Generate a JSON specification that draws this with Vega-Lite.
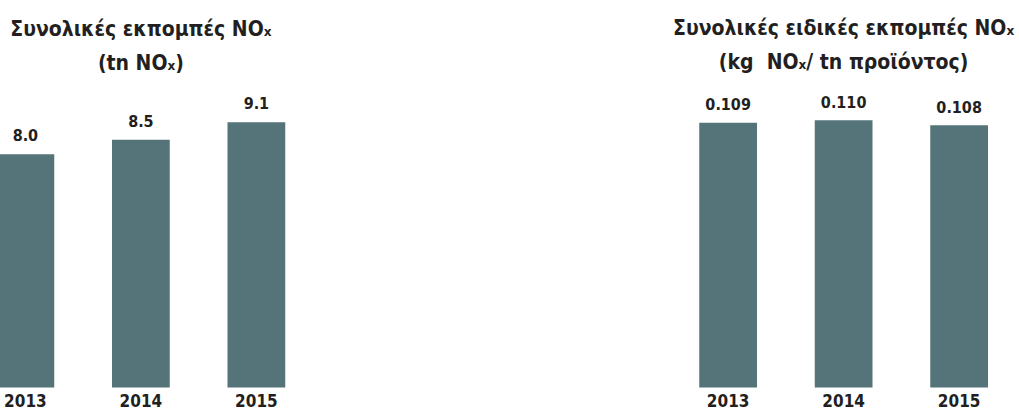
{
  "$schema": "https://vega.github.io/schema/vega-lite/v6.json",
  "background": "white",
  "padding": {"left": -3.5, "top": 17, "right": 0, "bottom": 0},
  "datasets": {
    "total": [
      {"year": "2013", "value": 8.0},
      {"year": "2014", "value": 8.5},
      {"year": "2015", "value": 9.1}
    ],
    "specific": [
      {"year": "2013", "value": 0.109},
      {"year": "2014", "value": 0.110},
      {"year": "2015", "value": 0.108}
    ]
  },
  "config": {
    "view": {"stroke": null},
    "font": "DejaVu Sans Condensed, sans-serif",
    "title": {"font": "DejaVu Sans Condensed, sans-serif", "fontSize": 21, "fontWeight": "bold", "color": "#231f20", "lineHeight": 34, "offset": 22, "anchor": "middle"},
    "axis": {"labelFont": "DejaVu Sans Condensed, sans-serif"}
  },
  "bounds": "flush",
  "spacing": 413.75,
  "hconcat": [
    {
      "data": {"name": "total"},
      "width": 288.75,
      "height": 291.5,
      "title": {"text": ["Συνολικές εκπομπές NOₓ", "(tn NOₓ)"]},
      "encoding": {
        "x": {"field": "year", "type": "nominal", "title": null,
              "scale": {"paddingInner": 0.5, "paddingOuter": 0},
              "axis": {"labelAngle": 0, "ticks": false, "domain": false, "labelFontSize": 17, "labelFontWeight": "bold", "labelColor": "#231f20", "labelPadding": 6}},
        "y": {"field": "value", "type": "quantitative", "scale": {"domain": [0, 10]}, "axis": null}
      },
      "layer": [
        {"mark": {"type": "bar", "color": "#557479"}},
        {"mark": {"type": "text", "baseline": "alphabetic", "dy": -13, "fontSize": 16, "fontWeight": "bold", "color": "#231f20"},
         "encoding": {"text": {"field": "value", "type": "quantitative", "format": ".1f"}}}
      ]
    },
    {
      "data": {"name": "specific"},
      "width": 288.75,
      "height": 291.5,
      "title": {"text": ["Συνολικές ειδικές εκπομπές NOₓ", "(kg\u00a0 NOₓ/ tn προϊόντος)"]},
      "encoding": {
        "x": {"field": "year", "type": "nominal", "title": null,
              "scale": {"paddingInner": 0.5, "paddingOuter": 0},
              "axis": {"labelAngle": 0, "ticks": false, "domain": false, "labelFontSize": 17, "labelFontWeight": "bold", "labelColor": "#231f20", "labelPadding": 6}},
        "y": {"field": "value", "type": "quantitative", "scale": {"domain": [0, 0.12]}, "axis": null}
      },
      "layer": [
        {"mark": {"type": "bar", "color": "#557479"}},
        {"mark": {"type": "text", "baseline": "alphabetic", "dy": -12.5, "fontSize": 16, "fontWeight": "bold", "color": "#231f20"},
         "encoding": {"text": {"field": "value", "type": "quantitative", "format": ".3f"}}}
      ]
    }
  ]
}
